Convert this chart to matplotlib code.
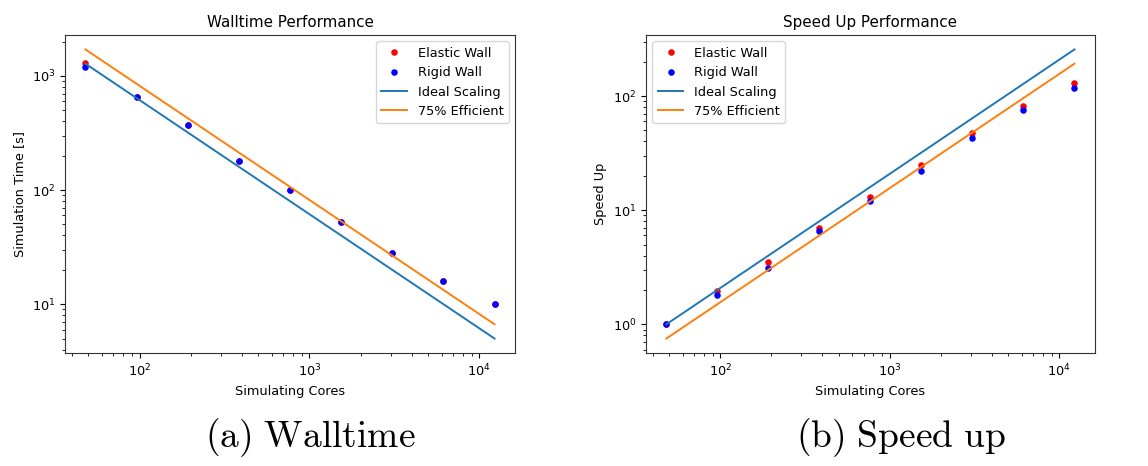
import numpy as np
import matplotlib
matplotlib.use('Agg')
import matplotlib.pyplot as plt

plt.rcParams['mathtext.fontset'] = 'cm'

# core counts used in the scaling runs
cores = [48, 96, 192, 384, 768, 1536, 3072, 6144, 12288]

# measured wall times [s]
time_elastic = [1300, 660, 370, 180, 100, 52, 28, 16, 10]
time_rigid = [1200, 660, 375, 180, 100, 52, 28, 16, 10]

# measured speed up relative to 48 cores
speedup_elastic = [1.0, 1.95, 3.5, 7.0, 13.0, 25.0, 47.0, 82.0, 130.0]
speedup_rigid = [1.0, 1.8, 3.1, 6.6, 12.0, 22.0, 43.0, 75.0, 118.0]

# reference curves
t_ref = 1280
efficiency = 0.75

n = np.array(cores, dtype=float)
ideal_time = t_ref * n[0] / n
eff_time = ideal_time / efficiency
ideal_speed = n / n[0]
eff_speed = efficiency * ideal_speed

fs = 9.3
lw = 1.4
ms = 3.7

fig = plt.figure(figsize=(11.48, 4.66), dpi=100)
ax1 = fig.add_axes([0.0566, 0.2425, 0.392, 0.6824])
ax2 = fig.add_axes([0.5627, 0.2425, 0.391, 0.6824])

# walltime
ax1.plot(cores, time_elastic, 'o', color='red', ms=ms, label='Elastic Wall')
ax1.plot(cores, time_rigid, 'o', color='blue', ms=ms, label='Rigid Wall')
ax1.plot(cores, ideal_time, color='C0', lw=lw, label='Ideal Scaling')
ax1.plot(cores, eff_time, color='C1', lw=lw, label='75% Efficient')
ax1.set_ylabel('Simulation Time [s]', fontsize=fs)
ax1.set_title('Walltime Performance', fontsize=10.9)
ax1.legend(loc='upper right', fontsize=fs)

# speed up
ax2.plot(cores, speedup_elastic, 'o', color='red', ms=ms, label='Elastic Wall')
ax2.plot(cores, speedup_rigid, 'o', color='blue', ms=ms, label='Rigid Wall')
ax2.plot(cores, ideal_speed, color='C0', lw=lw, label='Ideal Scaling')
ax2.plot(cores, eff_speed, color='C1', lw=lw, label='75% Efficient')
ax2.set_ylabel('Speed Up', fontsize=fs)
ax2.set_title('Speed Up Performance', fontsize=10.9)
ax2.legend(loc='upper left', fontsize=fs)

for ax in (ax1, ax2):
    ax.set_xscale('log')
    ax.set_yscale('log')
    ax.set_xlabel('Simulating Cores', fontsize=fs)
    ax.tick_params(labelsize=fs)
    for sp in ax.spines.values():
        sp.set_color('#333333')

fig.text(0.27, 0.06, r'$\mathrm{(a)\ Walltime}$', fontsize=27, ha='center', va='center')
fig.text(0.785, 0.06, r'$\mathrm{(b)\ Speed\ up}$', fontsize=27, ha='center', va='center')

fig.savefig('out.png', dpi=100)
